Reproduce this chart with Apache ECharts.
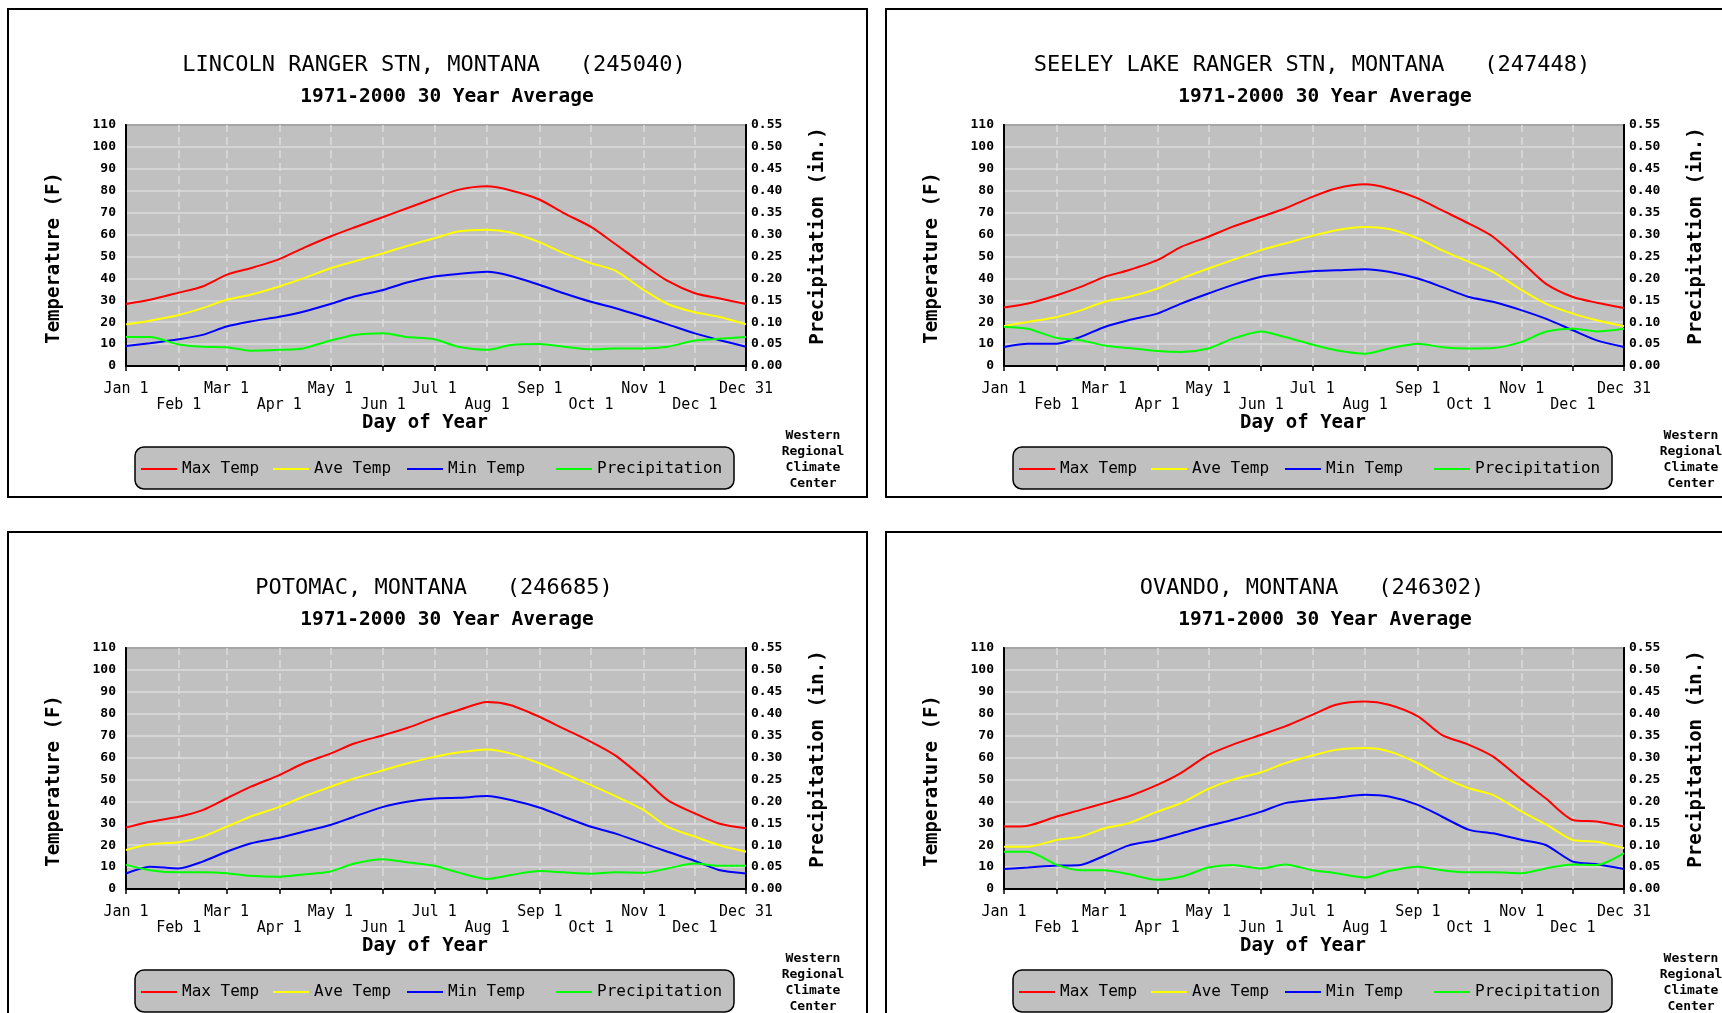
<!DOCTYPE html>
<html><head><meta charset="utf-8">
<script src="https://cdn.jsdelivr.net/npm/echarts@6/dist/echarts.min.js"></script>
<style>html,body{margin:0;padding:0;background:#fff;overflow:hidden}#c{width:1722px;height:1013px}</style>
</head><body><div id="c"></div>
<script>
// ---- data ----
const days = [1,15,32,46,60,74,91,105,121,135,152,166,182,196,213,227,244,258,274,288,305,319,335,349,365];
const tickDays = [1,32,60,91,121,152,182,213,244,274,305,335,365];
const tickLabels = ['Jan 1','Feb 1','Mar 1','Apr 1','May 1','Jun 1','Jul 1','Aug 1','Sep 1','Oct 1','Nov 1','Dec 1','Dec 31'];
const monthGridDays = [32,60,91,121,152,182,213,244,274,305,335];
const stationNames = ['LINCOLN RANGER STN, MONTANA','SEELEY LAKE RANGER STN, MONTANA','POTOMAC, MONTANA','OVANDO, MONTANA'];
const stationIds = ['245040','247448','246685','246302'];
const subtitle = '1971-2000 30 Year Average';
const seriesNames = ['Max Temp','Ave Temp','Min Temp','Precipitation'];

const lincolnMax  = [28.3,30.2,33.5,36.3,41.6,44.6,48.8,53.8,59.1,63.2,68.0,72.0,76.6,80.4,82.0,80.1,75.9,69.8,63.5,55.8,46.2,38.8,33.2,30.9,28.3];
const lincolnAve  = [19.0,20.7,23.3,26.4,30.2,32.5,36.3,40.0,44.6,47.7,51.5,54.8,58.3,61.4,62.2,60.9,56.4,51.5,46.9,43.6,34.7,28.3,24.5,22.5,19.0];
const lincolnMin  = [9.1,10.4,12.2,14.2,18.0,20.3,22.5,24.8,28.3,31.7,34.7,38.1,40.8,42.0,43.0,41.1,37.0,33.2,29.3,26.5,22.5,19.0,14.9,11.9,8.8];
const lincolnPrcp = [0.066,0.066,0.049,0.044,0.043,0.035,0.037,0.040,0.058,0.071,0.075,0.066,0.061,0.044,0.037,0.048,0.050,0.044,0.038,0.040,0.040,0.044,0.058,0.062,0.066];

const seeleyMax  = [26.7,28.5,32.3,36.1,40.7,43.7,48.3,54.4,59.0,63.5,68.1,71.9,77.2,81.0,82.9,81.0,76.5,71.1,65.0,59.0,47.5,37.6,31.5,28.9,26.5];
const seeleyAve  = [18.3,20.1,22.4,25.4,29.3,31.5,35.3,39.9,44.5,48.3,52.9,55.9,59.4,62.0,63.5,62.5,58.2,52.9,47.5,43.0,34.6,28.5,23.9,20.9,18.1];
const seeleyMin  = [8.7,10.2,10.2,13.3,17.8,20.9,23.9,28.5,33.1,36.9,40.7,42.2,43.3,43.7,44.2,43.0,39.9,36.1,31.5,29.3,25.4,21.6,16.3,11.7,8.7];
const seeleyPrcp = [0.089,0.085,0.064,0.059,0.047,0.041,0.034,0.032,0.040,0.062,0.079,0.066,0.049,0.036,0.028,0.040,0.051,0.043,0.040,0.041,0.055,0.078,0.085,0.079,0.085];

const potomacMax  = [28.0,30.7,33.0,36.0,41.3,46.6,52.0,57.3,61.8,66.4,70.2,73.5,78.1,81.6,85.4,83.9,78.5,73.2,67.2,61.1,50.4,40.6,34.5,29.9,27.7];
const potomacAve  = [17.8,20.4,21.3,23.9,28.4,33.0,37.5,42.1,46.6,50.4,54.2,57.3,60.3,62.3,63.7,61.8,57.3,52.7,47.4,42.5,36.0,28.4,23.9,20.1,17.0];
const potomacMin  = [7.1,10.2,9.4,12.5,17.0,20.8,23.4,26.1,29.2,33.0,37.5,39.8,41.3,41.6,42.4,40.6,37.1,33.0,28.4,25.4,20.8,17.0,12.8,8.7,7.1];
const potomacPrcp = [0.055,0.043,0.038,0.038,0.036,0.030,0.028,0.033,0.040,0.058,0.068,0.061,0.053,0.038,0.023,0.032,0.041,0.038,0.035,0.038,0.037,0.047,0.058,0.053,0.053];

const ovandoMax  = [28.5,28.9,33.1,36.1,39.2,42.2,47.5,53.0,61.2,65.8,70.4,74.2,79.5,84.1,85.6,84.1,78.8,70.4,65.8,60.5,49.8,41.4,31.5,30.8,28.5];
const ovandoAve  = [19.3,19.3,22.4,23.9,27.7,30.0,35.3,39.2,45.7,49.8,53.3,57.4,60.9,63.5,64.3,62.8,57.4,51.3,46.0,43.0,35.3,29.6,22.4,21.6,18.6];
const ovandoMin  = [9.1,9.8,10.7,11.0,15.2,19.8,22.4,25.4,28.9,31.5,35.3,39.2,40.7,41.7,43.0,42.2,38.4,33.1,27.0,25.4,22.4,20.1,12.5,11.3,9.1];
const ovandoPrcp = [0.085,0.085,0.055,0.043,0.043,0.034,0.021,0.028,0.049,0.055,0.047,0.056,0.043,0.036,0.026,0.041,0.051,0.043,0.038,0.038,0.036,0.047,0.056,0.055,0.082];

const stationSeries = [
  [lincolnMax, lincolnAve, lincolnMin, lincolnPrcp],
  [seeleyMax, seeleyAve, seeleyMin, seeleyPrcp],
  [potomacMax, potomacAve, potomacMin, potomacPrcp],
  [ovandoMax, ovandoAve, ovandoMin, ovandoPrcp]
];

// ---- layout / style ----
const MONO = '"DejaVu Sans Mono","Liberation Mono",monospace';
const colors = ['#ff0000','#ffff00','#0000ff','#00ff00'];
const offsets = [[0,0],[878,0],[0,523],[878,523]];
const legendLefts = [141,273,407,556];

const option = {
  animation:false,
  backgroundColor:'#ffffff',
  title:[], grid:[], xAxis:[], yAxis:[], series:[], legend:[], graphic:[]
};

offsets.forEach(([dx,dy],p)=>{
  option.graphic.push({type:'rect', z:0, shape:{x:8+dx,y:9+dy,width:859,height:488}, style:{fill:'none',stroke:'#000',lineWidth:2}});
  option.graphic.push({type:'rect', z:1, shape:{x:135+dx,y:447+dy,width:599,height:42,r:9}, style:{fill:'#c0c0c0',stroke:'#000',lineWidth:1.5}});
  option.graphic.push({type:'text', z:2, style:{x:813+dx,y:428+dy,text:'Western\nRegional\nClimate\nCenter',align:'center',verticalAlign:'top',font:'bold 13px '+MONO,lineHeight:16,fill:'#000'}});

  option.title.push({text: stationNames[p]+'   ('+stationIds[p]+')', left:434+dx, top:54+dy, textAlign:'center', padding:0,
    textStyle:{fontFamily:MONO,fontSize:22,fontWeight:'normal',color:'#000'}});
  option.title.push({text: subtitle, left:447+dx, top:87+dy, textAlign:'center', padding:0,
    textStyle:{fontFamily:MONO,fontSize:19.5,fontWeight:'bold',color:'#000'}});

  option.grid.push({left:126+dx, top:125+dy, width:620, height:241, show:true, backgroundColor:'#c0c0c0', borderColor:'#000', borderWidth:2});

  option.xAxis.push({type:'value', gridIndex:p, min:1, max:365,
    name:'Day of Year', nameLocation:'middle', nameGap:48,
    nameTextStyle:{fontFamily:MONO,fontSize:19,fontWeight:'bold',color:'#000',padding:[0,22,0,0]},
    axisLine:{lineStyle:{color:'#000',width:2}},
    axisTick:{show:true, customValues:tickDays, length:5, lineStyle:{color:'#000',width:1.5}},
    axisLabel:{customValues:tickDays, margin:15, fontFamily:MONO, fontSize:15, lineHeight:16, color:'#000',
      formatter:(v)=>{const i=tickDays.indexOf(Math.round(v)); if(i<0) return ''; return i%2 ? '\n'+tickLabels[i] : tickLabels[i];}},
    splitLine:{show:false}
  });
  option.yAxis.push({type:'value', gridIndex:p, min:0, max:110, interval:10, position:'left',
    name:'Temperature (F)', nameLocation:'middle', nameGap:62, nameRotate:90,
    nameTextStyle:{fontFamily:MONO,fontSize:19,fontWeight:'bold',color:'#000',padding:[0,25,0,0]},
    axisLine:{show:true,lineStyle:{color:'#000',width:2}}, axisTick:{show:false},
    axisLabel:{margin:10,fontFamily:MONO,fontSize:13,fontWeight:'bold',color:'#000'},
    splitLine:{show:true,lineStyle:{color:'#dcdcdc',width:1.5}}
  });
  option.yAxis.push({type:'value', gridIndex:p, min:0, max:0.55, interval:0.05, position:'right',
    name:'Precipitation (in.)', nameLocation:'middle', nameGap:63, nameRotate:90,
    nameTextStyle:{fontFamily:MONO,fontSize:19,fontWeight:'bold',color:'#000',padding:[0,0,0,19]},
    axisLine:{show:true,lineStyle:{color:'#000',width:2}}, axisTick:{show:false},
    axisLabel:{margin:5,fontFamily:MONO,fontSize:13,fontWeight:'bold',color:'#000',formatter:(v)=>v.toFixed(2)},
    splitLine:{show:false}
  });

  stationSeries[p].forEach((arr,k)=>{
    const s = {type:'line', name:seriesNames[k], xAxisIndex:p, yAxisIndex: k===3 ? 2*p+1 : 2*p,
      data: days.map((d,j)=>[d,arr[j]]), showSymbol:false, symbol:'none', smooth:0.25, z:3+k,
      itemStyle:{color:colors[k]}, lineStyle:{color:colors[k],width:2}, emphasis:{disabled:true}};
    if(k===0){
      s.markLine = {silent:true, symbol:'none', z:1, label:{show:false},
        lineStyle:{color:'#dcdcdc',width:1.5,type:[8,5]},
        data: monthGridDays.map(d=>({xAxis:d}))};
    }
    option.series.push(s);
  });

  seriesNames.forEach((nm,k)=>{
    option.legend.push({data:[nm], left:legendLefts[k]+dx, top:459+dy, padding:0, icon:'rect',
      itemWidth:36, itemHeight:2, itemGap:0, selectedMode:false, z:5,
      textStyle:{fontFamily:MONO,fontSize:16,color:'#000',lineHeight:20}});
  });
});

const chart = echarts.init(document.getElementById('c'), null, {renderer:'canvas'});
chart.setOption(option);
</script>
</body></html>
